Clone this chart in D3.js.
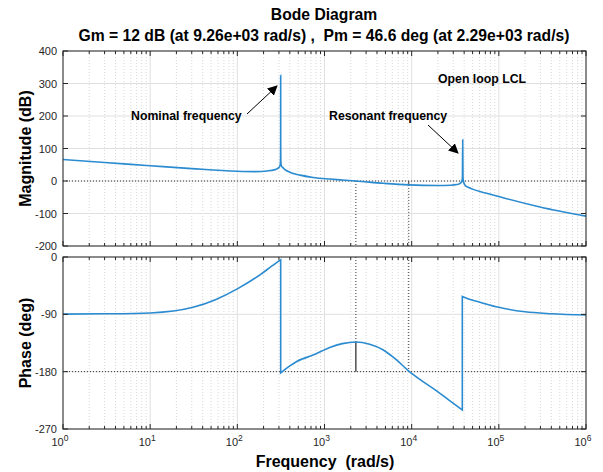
<!DOCTYPE html>
<html lang="en">
<head>
    <meta charset="UTF-8">
    <title>Bode Diagram</title>
    <style>
        body { margin: 0; background: #fff; }
        text { font-family: "Liberation Sans", Arial, sans-serif; fill: #262626; white-space: pre; }
        .ttl { font-weight: bold; font-size: 15.7px; fill: #000; }
        .lab { font-weight: bold; font-size: 16px; fill: #000; }
        .tick { font-size: 11px; }
        .note { font-weight: bold; font-size: 12.3px; fill: #000; }
    </style>
</head>
<body>
    <div id="chart"></div>
    <script src="https://cdn.jsdelivr.net/npm/d3@7/dist/d3.min.js"></script>
    <script>
        // values
        var magFreq = [1, 3, 10, 30, 100, 160, 220, 270, 300, 309, 312.5, 313.8, 314.16, 314.5, 315.8, 319, 330, 352, 400, 525, 740, 1150, 1600, 2290, 4730, 9260, 20000, 28000, 33000, 36000, 37500, 38200, 38500, 38800, 39500, 41000, 45000, 50000, 72500, 100000, 296000, 1000000];
        var magDb = [66, 57, 47, 38, 30, 29, 31, 35, 41, 48, 60, 110, 325, 110, 60, 48, 42, 35, 27, 18, 11, 6, 3, 0, -7, -12, -14, -13, -11, -7, -2, 10, 127, 10, -4, -13, -20, -25, -38, -48, -80, -108];

        var phaseFreq = [1, 3, 10, 31, 56, 100, 182, 250, 314.16, 314.16, 400, 480, 740, 1150, 1600, 2290, 3300, 4730, 6500, 9260, 13000, 19300, 27000, 38100, 38100, 45000, 60500, 100000, 200000, 400000, 1000000];
        var phaseDeg = [-89.6, -89.2, -87.8, -79, -67, -50, -28, -14, -4.5, -182, -171, -164, -154, -142, -136, -133.4, -137, -146, -160, -179, -194, -210, -225, -240, -62, -66, -71, -79, -86, -89, -91];

        var magTicks = [400, 300, 200, 100, 0, -100, -200];
        var phaseTicks = [0, -90, -180, -270];
        var decades = [0, 1, 2, 3, 4, 5, 6];

        var wGm = 9260, wPm = 2290, gm = -12, pmPhase = -133.4;

        var width = 603, height = 472;
        var x = d3.scaleLog().domain([1, 1e6]).range([63, 586]);
        var yMag = d3.scaleLinear().domain([-200, 400]).range([246, 51]);
        var yPh = d3.scaleLinear().domain([-270, 0]).range([429, 257]);

        var svg = d3.select("#chart").append("svg")
            .attr("width", width)
            .attr("height", height);

        var minor = [];
        decades.slice(0, 6).forEach(function(d) {
            for (var k = 2; k <= 9; k++) minor.push(k * Math.pow(10, d));
        });
        var major = decades.map(function(d) { return Math.pow(10, d); });

        function panel(y, ticks) {
            var g = svg.append("g");
            var y0 = y.range()[0], y1 = y.range()[1];
            var x0 = x.range()[0], x1 = x.range()[1];

            // grid
            g.selectAll(".mg").data(minor).enter().append("line")
                .attr("x1", d => x(d)).attr("x2", d => x(d))
                .attr("y1", y1).attr("y2", y0)
                .attr("stroke", "#cfcfcf").attr("stroke-width", 0.8)
                .attr("stroke-dasharray", "1,2");
            g.selectAll(".Mg").data(major).enter().append("line")
                .attr("x1", d => x(d)).attr("x2", d => x(d))
                .attr("y1", y1).attr("y2", y0)
                .attr("stroke", "#e0e0e0").attr("stroke-width", 1);
            g.selectAll(".yg").data(ticks).enter().append("line")
                .attr("x1", x0).attr("x2", x1)
                .attr("y1", d => y(d)).attr("y2", d => y(d))
                .attr("stroke", "#e0e0e0").attr("stroke-width", 1);

            // inward ticks
            var tk = svg.append("g").attr("stroke", "#262626").attr("stroke-width", 1);
            [y0, y1].forEach(function(yy, i) {
                var s = i === 0 ? -1 : 1;
                tk.selectAll(null).data(major).enter().append("line")
                    .attr("x1", d => x(d)).attr("x2", d => x(d))
                    .attr("y1", yy).attr("y2", yy + s * 5);
                tk.selectAll(null).data(minor).enter().append("line")
                    .attr("x1", d => x(d)).attr("x2", d => x(d))
                    .attr("y1", yy).attr("y2", yy + s * 3);
            });
            [x0, x1].forEach(function(xx, i) {
                var s = i === 0 ? 1 : -1;
                tk.selectAll(null).data(ticks).enter().append("line")
                    .attr("x1", xx).attr("x2", xx + s * 5)
                    .attr("y1", d => y(d)).attr("y2", d => y(d));
            });

            // tick labels
            svg.append("g").selectAll("text").data(ticks).enter().append("text")
                .attr("class", "tick")
                .attr("x", x0 - 6).attr("y", d => y(d) + 4)
                .attr("text-anchor", "end")
                .text(d => d);
            return g;
        }

        var gMag = panel(yMag, magTicks);
        var gPh = panel(yPh, phaseTicks);

        // reference lines
        gMag.append("line")
            .attr("x1", x(1)).attr("x2", x(1e6))
            .attr("y1", yMag(0)).attr("y2", yMag(0))
            .attr("stroke", "#333").attr("stroke-dasharray", "1,2");
        gPh.append("line")
            .attr("x1", x(1)).attr("x2", x(1e6))
            .attr("y1", yPh(-180)).attr("y2", yPh(-180))
            .attr("stroke", "#333").attr("stroke-dasharray", "1,2");

        // margin markers
        gMag.append("line").attr("x1", x(wPm)).attr("x2", x(wPm))
            .attr("y1", yMag(0)).attr("y2", yMag(-200))
            .attr("stroke", "#333").attr("stroke-dasharray", "1,2");
        gMag.append("line").attr("x1", x(wGm)).attr("x2", x(wGm))
            .attr("y1", yMag(gm)).attr("y2", yMag(-200))
            .attr("stroke", "#333").attr("stroke-dasharray", "1,2");
        gMag.append("line").attr("x1", x(wGm)).attr("x2", x(wGm))
            .attr("y1", yMag(gm)).attr("y2", yMag(0))
            .attr("stroke", "#333");
        gPh.append("line").attr("x1", x(wPm)).attr("x2", x(wPm))
            .attr("y1", yPh(0)).attr("y2", yPh(pmPhase))
            .attr("stroke", "#333").attr("stroke-dasharray", "1,2");
        gPh.append("line").attr("x1", x(wPm)).attr("x2", x(wPm))
            .attr("y1", yPh(pmPhase)).attr("y2", yPh(-180))
            .attr("stroke", "#333").attr("stroke-width", 1.3);
        gPh.append("line").attr("x1", x(wGm)).attr("x2", x(wGm))
            .attr("y1", yPh(0)).attr("y2", yPh(-180))
            .attr("stroke", "#333").attr("stroke-dasharray", "1,2");

        // curves: smooth pieces, joined by vertical jumps where the frequency repeats
        function smoothPath(fr, vals, y) {
            var pts = d3.zip(fr, vals), segs = [[]];
            pts.forEach(function(p, i) {
                if (i > 0 && p[0] === pts[i - 1][0]) segs.push([]);
                segs[segs.length - 1].push(p);
            });
            var line = d3.line().x(d => x(d[0])).y(d => y(d[1])).curve(d3.curveMonotoneX);
            return segs.map(function(s, i) {
                var d = line(s);
                return i === 0 ? d : "L" + d.slice(1);
            }).join("");
        }

        gMag.append("path")
            .attr("d", smoothPath(magFreq, magDb, yMag))
            .attr("fill", "none").attr("stroke", "#2a8bd0").attr("stroke-width", 1.6);
        gPh.append("path")
            .attr("d", smoothPath(phaseFreq, phaseDeg, yPh))
            .attr("fill", "none").attr("stroke", "#2a8bd0").attr("stroke-width", 1.6);

        // frames
        [yMag, yPh].forEach(function(y) {
            svg.append("rect")
                .attr("x", x(1)).attr("y", y.range()[1])
                .attr("width", x(1e6) - x(1)).attr("height", y.range()[0] - y.range()[1])
                .attr("fill", "none").attr("stroke", "#262626").attr("stroke-width", 1);
        });

        // x tick labels
        var xl = svg.append("g").selectAll("text").data(decades).enter().append("text")
            .attr("class", "tick")
            .attr("x", d => x(Math.pow(10, d)) - 3)
            .attr("y", 446)
            .attr("text-anchor", "middle");
        xl.append("tspan").text("10");
        xl.append("tspan").attr("dy", -5).style("font-size", "8.5px").text(d => d);

        // titles
        svg.append("text").attr("class", "ttl").attr("x", 324).attr("y", 20)
            .attr("text-anchor", "middle").text("Bode Diagram");
        svg.append("text").attr("class", "ttl").attr("x", 324).attr("y", 41)
            .attr("text-anchor", "middle")
            .text("Gm = 12 dB (at 9.26e+03 rad/s) ,  Pm = 46.6 deg (at 2.29e+03 rad/s)");
        svg.append("text").attr("class", "lab").attr("x", 325).attr("y", 467)
            .attr("text-anchor", "middle")
            .text("Frequency  (rad/s)");
        svg.append("text").attr("class", "lab")
            .attr("transform", "translate(31," + (yMag(100)) + ") rotate(-90)")
            .attr("text-anchor", "middle").text("Magnitude (dB)");
        svg.append("text").attr("class", "lab")
            .attr("transform", "translate(31," + (yPh(-135)) + ") rotate(-90)")
            .attr("text-anchor", "middle").text("Phase (deg)");

        // annotations
        svg.append("defs").append("marker")
            .attr("id", "arr").attr("viewBox", "0 0 10 10")
            .attr("refX", 9).attr("refY", 5)
            .attr("markerWidth", 10).attr("markerHeight", 10)
            .attr("markerUnits", "userSpaceOnUse")
            .attr("orient", "auto")
            .append("path").attr("d", "M0,0 L10,5 L0,10 z").attr("fill", "#000");

        svg.append("text").attr("class", "note").attr("x", 131).attr("y", 120).text("Nominal frequency");
        svg.append("line").attr("x1", 247).attr("y1", 114).attr("x2", 277).attr("y2", 86)
            .attr("stroke", "#000").attr("stroke-width", 1).attr("marker-end", "url(#arr)");
        svg.append("text").attr("class", "note").attr("x", 329).attr("y", 120).text("Resonant frequency");
        svg.append("line").attr("x1", 428).attr("y1", 125).attr("x2", 458).attr("y2", 153)
            .attr("stroke", "#000").attr("stroke-width", 1).attr("marker-end", "url(#arr)");
        svg.append("text").attr("class", "note").attr("x", 438).attr("y", 83).text("Open loop LCL");
    </script>
</body>
</html>
